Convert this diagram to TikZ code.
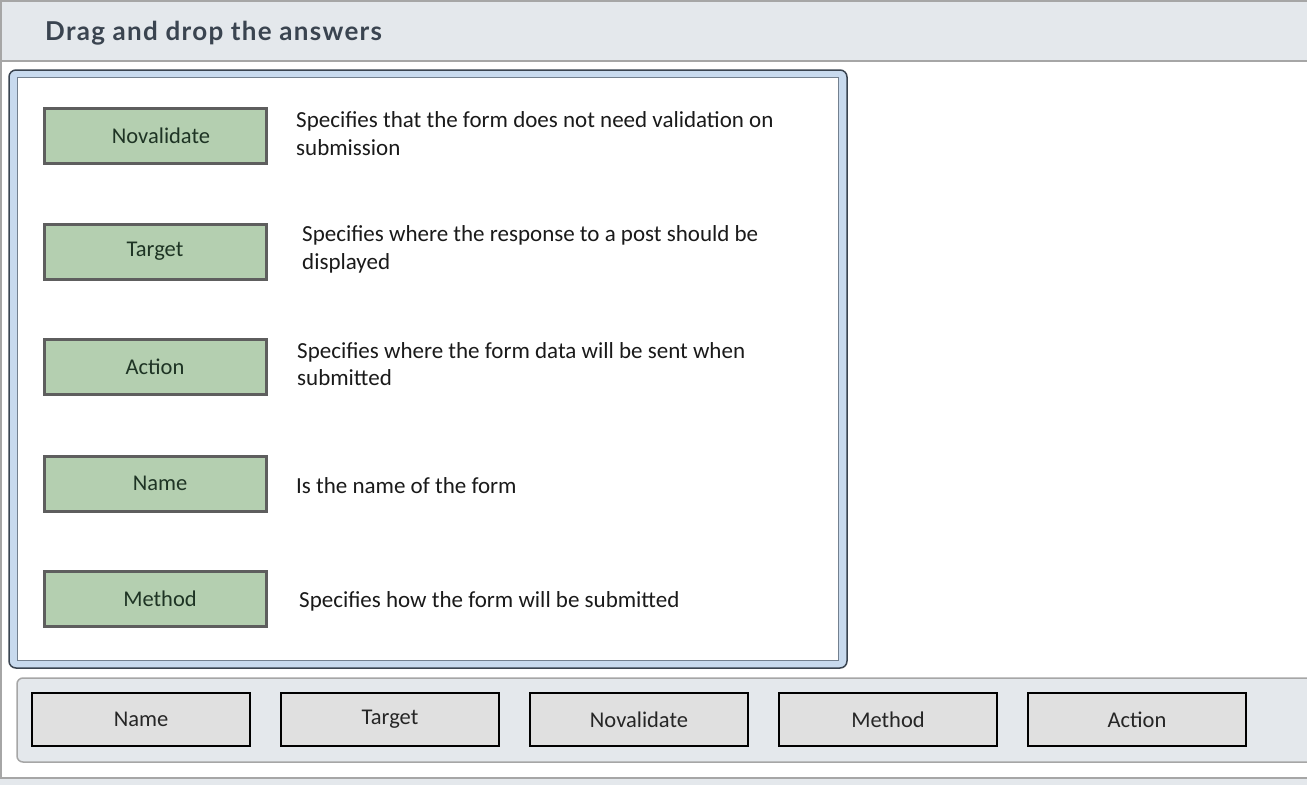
\documentclass[tikz,border=0pt]{standalone}
\usepackage{fontspec}
\setmainfont{Carlito}
\newfontfamily\titlefont[LetterSpace=5]{Lato}
\usetikzlibrary{positioning}

\definecolor{headbg}{HTML}{E4E8EC}
\definecolor{edgegray}{HTML}{A6A6A6}
\definecolor{panelblue}{HTML}{C8DAEE}
\definecolor{paneldark}{HTML}{3A4450}
\definecolor{greenfill}{HTML}{B4CFB0}
\definecolor{greenline}{HTML}{5E5E5E}
\definecolor{greentext}{HTML}{1E3424}
\definecolor{ansfill}{HTML}{E0E0E0}
\definecolor{bodytext}{HTML}{1A1A1A}

\tikzset{
  keybox/.style={draw=greenline, line width=3pt, fill=greenfill, text=greentext,
    minimum width=222pt, minimum height=55pt, inner sep=0pt,
    font=\fontsize{22.5}{26}\selectfont},
  ansbox/.style={draw=black, line width=2pt, fill=ansfill, text=black!85,
    minimum width=218pt, minimum height=53pt, inner sep=0pt,
    font=\fontsize{22.5}{26}\selectfont},
  desc/.style={anchor=base west, inner sep=0pt, text=bodytext,
    font=\fontsize{23}{28}\selectfont}
}

\begin{document}
\begin{tikzpicture}[x=1pt,y=-1pt]
 \useasboundingbox (0,0) rectangle (1307,785);
 \fill[white] (0,0) rectangle (1307,785);
    % Draw header band
    \fill[headbg] (0,0) rectangle (1307,61);
    \draw[edgegray, line width=1.5pt] (0,1) -- (1307,1);
    \draw[edgegray, line width=1.5pt] (0,61) -- (1307,61);
    \draw[edgegray, line width=1.5pt] (1,0) -- (1,785);
    \node[anchor=base west, inner sep=0pt, text=paneldark,
      font=\titlefont\bfseries\fontsize{26}{30}\selectfont] (title) at (45,40) {Drag and drop the answers};

    % Draw question panel
    \draw[paneldark, line width=1.5pt, fill=panelblue, rounded corners=7pt] (9,70) rectangle (847,668);
    \draw[paneldark!60!panelblue, line width=0.8pt, fill=white] (17,77) rectangle (838,660);

    % Draw answer tray
    \draw[edgegray, line width=1.5pt, fill=headbg, rounded corners=6pt] (17,678) rectangle (1320,762);
    \fill[headbg] (0,778) rectangle (1307,785);
    \draw[edgegray, line width=1.5pt] (0,778) -- (1307,778);

    % Terms on the left
    \node[keybox] (novalidate) at (155,135.5) {\hspace*{12pt}Novalidate};
    \node[keybox] (target) at (155,251.5) {Target};
    \node[keybox] (action) at (155,367) {Action};
    \node[keybox] (name) at (155,483.5) {\hspace*{10pt}Name};
    \node[keybox] (method) at (155,599) {\hspace*{10pt}Method};

    % Descriptions
    \node[desc] (dnovalidate) at (296,127) {Specifies that the form does not need validation on};
    \node[desc] (dnovalidate2) at (296,155) {submission};
    \node[desc] (dtarget) at (302,241) {Specifies where the response to a post should be};
    \node[desc] (dtarget2) at (302,269) {displayed};
    \node[desc] (daction) at (297,358) {Specifies where the form data will be sent when};
    \node[desc] (daction2) at (297,385) {submitted};
    \node[desc] (dname) at (296,493) {Is the name of the form};
    \node[desc] (dmethod) at (299,607) {Specifies how the form will be submitted};

    % Answers to drag
    \node[ansbox] (aname) at (141,719.5) {Name};
    \node[ansbox] (atarget) at (390,719.5) {Target};
    \node[ansbox] (anovalidate) at (639,719.5) {Novalidate};
    \node[ansbox] (amethod) at (888,719.5) {Method};
    \node[ansbox] (aaction) at (1137,719.5) {Action};

\end{tikzpicture}
\end{document}
